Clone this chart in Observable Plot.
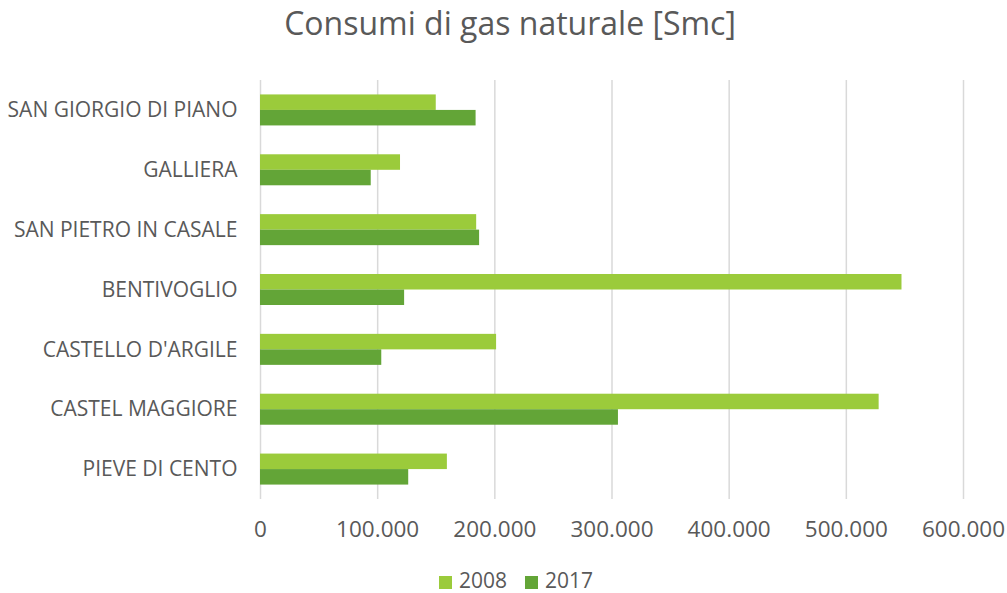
<!DOCTYPE html>
<html>
<head>
<meta charset="utf-8">
<script src="https://cdn.jsdelivr.net/npm/d3@7"></script>
<script src="https://cdn.jsdelivr.net/npm/@observablehq/plot@0.6"></script>
<style>
  html, body { margin: 0; padding: 0; background: #fff; }
  body { width: 1007px; height: 593px; overflow: hidden; font-family: "Open Sans", sans-serif; color: #595959; }
  #title { height: 60px; box-sizing: border-box; padding-top: 7px; padding-left: 13px; text-align: center; font-size: 32px; line-height: 32px; }
  #chart svg { display: block; }
  #legend { height: 33px; box-sizing: border-box; padding-top: 7px; padding-left: 25px; display: flex; justify-content: center; align-items: center; font-size: 21px; line-height: 21px; }
  .item { display: flex; align-items: center; margin: 0 9px; }
  .swatch { width: 13px; height: 13px; margin-right: 7px; position: relative; top: 2px; }
  g[aria-label="x-axis tick label"] { font-size: 22.5px; }
  g[aria-label="y-axis tick label"] { font-size: 21px; }
</style>
</head>
<body>
<div id="title">Consumi di gas naturale [Smc]</div>
<div id="chart"></div>
<div id="legend"></div>
<script>
const categories = ["SAN GIORGIO DI PIANO", "GALLIERA", "SAN PIETRO IN CASALE", "BENTIVOGLIO", "CASTELLO D'ARGILE", "CASTEL MAGGIORE", "PIEVE DI CENTO"];
const values2008 = [150000, 119500, 184500, 547500, 201500, 528000, 159500];
const values2017 = [184000, 94500, 187000, 123000, 103500, 305500, 126500];
const years = ["2008", "2017"];
const colors = ["#9BCB3B", "#63A537"];
const xTicks = [0, 100000, 200000, 300000, 400000, 500000, 600000];

const it = d3.formatLocale({decimal: ",", thousands: ".", grouping: [3], currency: ["", " €"]});
const fmt = it.format(",");

const data2008 = categories.map((c, i) => ({category: c, value: values2008[i], year: years[0]}));
const data2017 = categories.map((c, i) => ({category: c, value: values2017[i], year: years[1]}));

const chart = Plot.plot({
  width: 1007,
  height: 500,
  marginTop: 20,
  marginBottom: 61,
  marginLeft: 260,
  marginRight: 44,
  style: {fontFamily: "Open Sans, sans-serif", fontSize: "21px", color: "#595959", background: "#fff", overflow: "visible"},
  x: {domain: [0, 600000], ticks: xTicks, tickFormat: fmt, tickSize: 0, tickPadding: 22, label: null},
  y: {domain: categories, paddingInner: 0.482, paddingOuter: 0.241, round: false, tickSize: 0, tickPadding: 23, label: null},
  marks: [
    Plot.ruleX(xTicks, {stroke: "#d9d9d9", strokeWidth: 1.5, strokeOpacity: 1}),
    Plot.barX(data2008, {x: "value", y: "category", fill: colors[0], insetBottom: 15.5}),
    Plot.barX(data2017, {x: "value", y: "category", fill: colors[1], insetTop: 15.5})
  ]
});
document.getElementById("chart").appendChild(chart);

const legend = document.getElementById("legend");
years.forEach((y, i) => {
  const item = document.createElement("div");
  item.className = "item";
  const sw = document.createElement("span");
  sw.className = "swatch";
  sw.style.background = colors[i];
  const label = document.createElement("span");
  label.textContent = y;
  item.appendChild(sw);
  item.appendChild(label);
  legend.appendChild(item);
});
</script>
</body>
</html>
